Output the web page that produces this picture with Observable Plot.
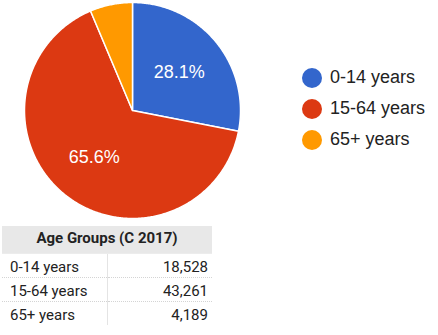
<!DOCTYPE html>
<html>
<head>
<meta charset="utf-8">
<script src="https://cdn.jsdelivr.net/npm/d3@7"></script>
<script src="https://cdn.jsdelivr.net/npm/@observablehq/plot@0.6"></script>
<style>
  body { margin: 0; background: #fff; }
  #wrap { position: relative; width: 438px; height: 335px; overflow: hidden; }
  #chart { position: absolute; left: 0; top: 0; }
  #legend { position: absolute; left: 302px; top: 62px; font-family: "Liberation Sans", Arial, sans-serif; font-size: 18px; color: #222; }
  #legend .row { display: flex; align-items: center; height: 31px; }
  #legend .sw { width: 20px; height: 20px; border-radius: 50%; margin-right: 8px; }
  table { position: absolute; left: 2px; top: 226px; width: 210px; border-collapse: collapse; table-layout: fixed; font-family: Roboto, sans-serif; font-size: 15px; color: #222; }
  th { background: #e8e8e8; font-weight: bold; height: 23px; padding: 0 0 4px 0; text-align: center; border-bottom: 1px solid #ececec; }
  td { height: 20px; padding: 3px 4px 0 8px; border-bottom: 1px dotted #d4d4d4; }
  td.c { width: 118px; }
  td.v { text-align: right; border-left: 1px solid #e4e4e4; }
  tr:last-child td { border-bottom: none; }
</style>
</head>
<body>
<div id="wrap">
  <div id="chart"></div>
  <div id="legend"></div>
  <table id="tbl"></table>
</div>
<script>
const categories = ["0-14 years", "15-64 years", "65+ years"];
const values = [18528, 43261, 4189];
const colors = ["#3366cc", "#dc3912", "#ff9900"];
const tableTitle = "Age Groups (C 2017)";

const total = d3.sum(values);
const arcs = d3.pie().sort(null)(values);

// polygon vertices for each slice, in unit-circle coordinates
const slicePts = [];
arcs.forEach((a, i) => {
  const n = Math.max(2, Math.ceil((a.endAngle - a.startAngle) / 0.01));
  slicePts.push({cat: categories[i], x: 0, y: 0});
  for (let k = 0; k <= n; k++) {
    const t = a.startAngle + (a.endAngle - a.startAngle) * k / n;
    slicePts.push({cat: categories[i], x: Math.sin(t), y: Math.cos(t)});
  }
  slicePts.push({cat: categories[i], x: 0, y: 0});
});

const labels = arcs.map((a, i) => {
  const mid = (a.startAngle + a.endAngle) / 2;
  const share = values[i] / total;
  return {x: 0.56 * Math.sin(mid), y: 0.56 * Math.cos(mid), share, text: (share * 100).toFixed(1) + "%"};
}).filter(d => d.share > 0.1);

const plot = Plot.plot({
  width: 438, height: 222,
  margin: 0,
  x: {domain: [-1, 1], range: [24, 240], axis: null},
  y: {domain: [-1, 1], range: [218, 2], axis: null},
  color: {domain: categories, range: colors},
  marks: [
    Plot.line(slicePts, {x: "x", y: "y", z: "cat", fill: "cat", stroke: "#fff", strokeWidth: 1.5, curve: "linear"}),
    Plot.text(labels, {x: "x", y: "y", text: "text", fill: "#fff", fontSize: 18, fontFamily: "Liberation Sans, Arial, sans-serif"})
  ]
});
document.getElementById("chart").appendChild(plot);

const leg = document.getElementById("legend");
categories.forEach((c, i) => {
  const row = document.createElement("div");
  row.className = "row";
  row.innerHTML = `<span class="sw" style="background:${colors[i]}"></span><span>${c}</span>`;
  leg.appendChild(row);
});

const tbl = document.getElementById("tbl");
let html = `<tr><th colspan="2">${tableTitle}</th></tr>`;
categories.forEach((c, i) => {
  html += `<tr><td class="c">${c}</td><td class="v">${d3.format(",")(values[i])}</td></tr>`;
});
tbl.innerHTML = html;
</script>
</body>
</html>
